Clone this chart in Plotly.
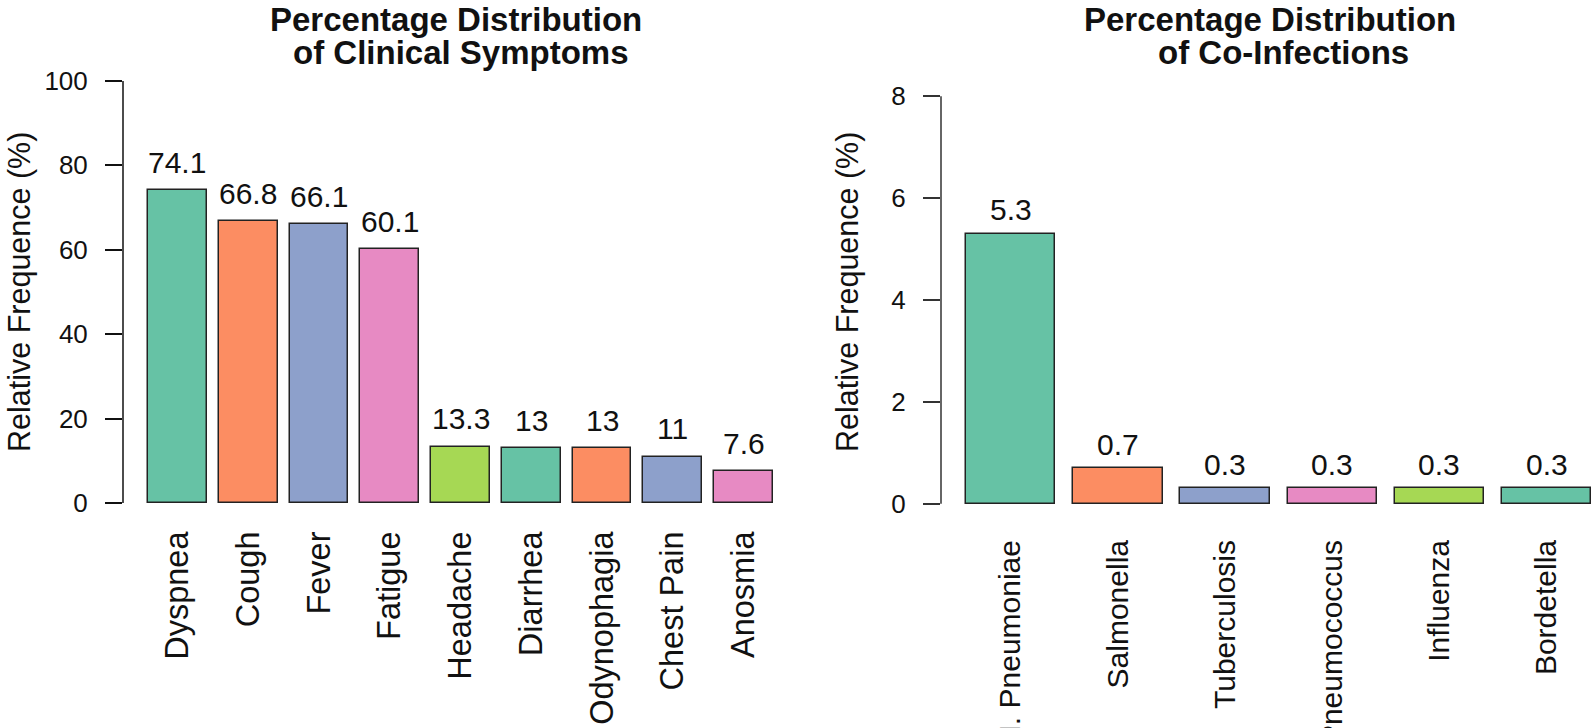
import plotly.graph_objects as go

# ---- data ----
symptoms = ["Dyspnea", "Cough", "Fever", "Fatigue", "Headache", "Diarrhea",
            "Odynophagia", "Chest Pain", "Anosmia"]
symptom_pct = [74.1, 66.8, 66.1, 60.1, 13.3, 13, 13, 11, 7.6]

infections = ["M. Pneumoniae", "Salmonella", "Tuberculosis", "Pneumococcus",
              "Influenza", "Bordetella"]
infection_pct = [5.3, 0.7, 0.3, 0.3, 0.3, 0.3]

sym_ticks = [0, 20, 40, 60, 80, 100]
inf_ticks = [0, 2, 4, 6, 8]

set2 = ["#66C2A5", "#FC8D62", "#8DA0CB", "#E78AC3", "#A6D854"]

W, H = 1593, 728
FONT = "Liberation Sans, Arial, Helvetica, sans-serif"


def px_x(p):
    return p / W


def px_y(p):
    return 1 - p / H


def fmt(v):
    return "%g" % v


# R barplot positions: centres at 0.7 + 1.2*i, width 1
sym_x = [0.7 + 1.2 * i for i in range(len(symptoms))]
inf_x = [0.7 + 1.2 * i for i in range(len(infections))]

fig = go.Figure()

fig.add_trace(go.Bar(
    x=sym_x, y=symptom_pct, width=1,
    marker=dict(color=[set2[i % 5] for i in range(len(symptoms))],
                line=dict(color="#222222", width=1.5)),
    xaxis="x", yaxis="y", showlegend=False, hoverinfo="skip"))

fig.add_trace(go.Bar(
    x=inf_x, y=infection_pct, width=1,
    marker=dict(color=[set2[i % 5] for i in range(len(infections))],
                line=dict(color="#222222", width=1.5)),
    xaxis="x2", yaxis="y2", showlegend=False, hoverinfo="skip"))

annotations = []
for xv, v in zip(sym_x, symptom_pct):
    annotations.append(dict(x=xv, y=v, xref="x", yref="y", text=fmt(v),
                            showarrow=False, yanchor="middle", yshift=28,
                            font=dict(size=30, color="#111", family=FONT)))
for xv, v in zip(inf_x, infection_pct):
    annotations.append(dict(x=xv, y=v, xref="x2", yref="y2", text=fmt(v),
                            showarrow=False, yanchor="middle", yshift=24,
                            font=dict(size=30, color="#111", family=FONT)))

# titles
title_font = dict(size=33, color="#111", family=FONT, weight="bold")
for txt, cx, cy in [("Percentage Distribution", 456, 19),
                    ("of Clinical Symptoms", 461, 53),
                    ("Percentage Distribution", 1270, 19),
                    ("of Co-Infections", 1283, 53)]:
    annotations.append(dict(x=px_x(cx), y=px_y(cy), xref="paper", yref="paper",
                            text=txt, showarrow=False, xanchor="center",
                            yanchor="middle", font=title_font))

# y axis titles
for cx in [19, 847]:
    annotations.append(dict(x=px_x(cx), y=px_y(292), xref="paper", yref="paper",
                            text="Relative Frequence (%)", textangle=-90,
                            showarrow=False, xanchor="center", yanchor="middle",
                            font=dict(size=30.5, color="#111", family=FONT)))

shapes = [
    dict(type="line", xref="x domain", yref="y", x0=0, x1=0,
         y0=sym_ticks[0], y1=sym_ticks[-1], line=dict(color="#111", width=1.5)),
    dict(type="line", xref="x2 domain", yref="y2", x0=0, x1=0,
         y0=inf_ticks[0], y1=inf_ticks[-1], line=dict(color="#666", width=2)),
]

fig.update_layout(
    width=W, height=H, autosize=False,
    margin=dict(l=0, r=0, t=0, b=0),
    paper_bgcolor="white", plot_bgcolor="white",
    font=dict(family=FONT, color="#111"),
    bargap=0,
    xaxis=dict(domain=[px_x(123), px_x(798)], range=[-0.224, 11.224],
               anchor="y", tickmode="array", tickvals=sym_x, ticktext=symptoms,
               tickangle=-90, tickfont=dict(size=32.5, color="#111"),
               ticks="", showline=False, showgrid=False, zeroline=False,
               ticklabelstandoff=4, automargin=False),
    yaxis=dict(domain=[px_y(520), px_y(64)], range=[-4, 104],
               anchor="x", tickmode="array", tickvals=sym_ticks,
               ticks="outside", ticklen=17, tickwidth=1.5, tickcolor="#111",
               tickfont=dict(size=26, color="#111"),
               showline=False, showgrid=False, zeroline=False,
               ticklabelstandoff=12, automargin=False),
    xaxis2=dict(domain=[px_x(941), 1.0], range=[-0.08, 7.22],
                anchor="y2", tickmode="array", tickvals=inf_x, ticktext=infections,
                tickangle=-90, tickfont=dict(size=30, color="#111"),
                ticks="", showline=False, showgrid=False, zeroline=False,
                ticklabelstandoff=13, automargin=False),
    yaxis2=dict(domain=[px_y(520), px_y(80)], range=[-0.32, 8.32],
                anchor="x2", tickmode="array", tickvals=inf_ticks,
                ticks="outside", ticklen=17, tickwidth=1.5, tickcolor="#333",
                tickfont=dict(size=26, color="#111"),
                showline=False, showgrid=False, zeroline=False,
                ticklabelstandoff=12, automargin=False),
    annotations=annotations,
    shapes=shapes,
)

fig.write_html("out.html", config={"displayModeBar": False},
               post_script="document.body.style.margin='0px';")
